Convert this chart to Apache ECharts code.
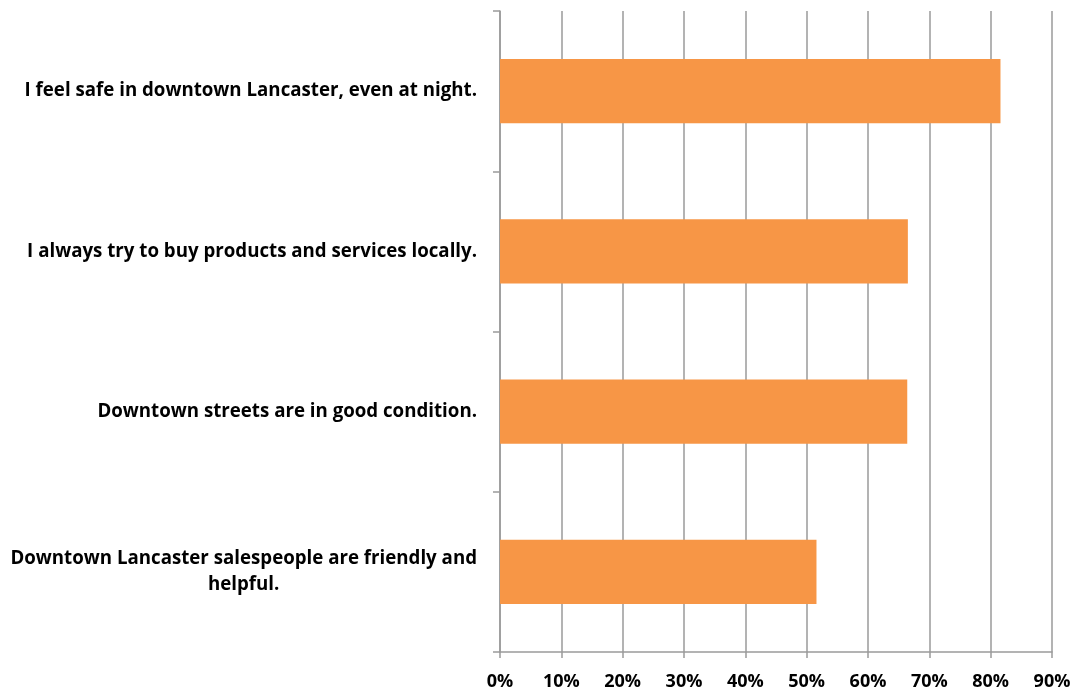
<!DOCTYPE html>
<html>
<head>
<meta charset="utf-8">
<script src="https://cdn.jsdelivr.net/npm/echarts@6/dist/echarts.min.js"></script>
<style>
  html, body { margin: 0; padding: 0; background: #ffffff; }
  #chart { width: 1075px; height: 691px; }
</style>
</head>
<body>
<div id="chart"></div>
<script>
// Survey statements, listed top to bottom
const statements = [
  'I feel safe in downtown Lancaster, even at night.',
  'I always try to buy products and services locally.',
  'Downtown streets are in good condition.',
  'Downtown Lancaster salespeople are friendly and\nhelpful.'
];
// Share of respondents agreeing (%)
const agreePct = [81.6, 66.5, 66.4, 51.6];
// Percent axis ticks
const pctTicks = [0, 10, 20, 30, 40, 50, 60, 70, 80, 90];

const labelFont = '"Open Sans", Lato, sans-serif';
const gridGray = '#9a9a9a';

const chart = echarts.init(document.getElementById('chart'), null, { renderer: 'canvas' });

chart.setOption({
  animation: false,
  backgroundColor: '#ffffff',
  grid: { left: 500, right: 23, top: 11, bottom: 39, containLabel: false },
  xAxis: {
    type: 'value',
    min: pctTicks[0],
    max: pctTicks[pctTicks.length - 1],
    interval: pctTicks[1] - pctTicks[0],
    axisLine: { show: true, lineStyle: { color: gridGray, width: 1.5 } },
    axisTick: { show: true, length: 6, lineStyle: { color: gridGray, width: 1.5 } },
    splitLine: { show: true, lineStyle: { color: gridGray, width: 1.5 } },
    axisLabel: {
      margin: 21,
      formatter: '{value}%',
      color: '#000000',
      fontFamily: labelFont,
      fontWeight: 'bold',
      fontSize: 18
    }
  },
  yAxis: {
    type: 'category',
    inverse: true,
    data: statements,
    axisLine: { show: true, lineStyle: { color: gridGray, width: 1.5 } },
    axisTick: { show: true, length: 7, alignWithLabel: false, lineStyle: { color: gridGray, width: 1.5 } },
    splitLine: { show: false },
    axisLabel: {
      margin: 23,
      formatter: function (v) {
        return v.split('\n').map(function (line) { return '{c|' + line + '}'; }).join('\n');
      },
      rich: {
        c: {
          align: 'center',
          color: '#000000',
          fontFamily: labelFont,
          fontWeight: 'bold',
          fontSize: 18.7,
          lineHeight: 26
        }
      }
    }
  },
  series: [{
    type: 'bar',
    data: agreePct,
    barWidth: '40%',
    itemStyle: { color: '#F79646' },
    label: { show: false }
  }]
});
</script>
</body>
</html>
